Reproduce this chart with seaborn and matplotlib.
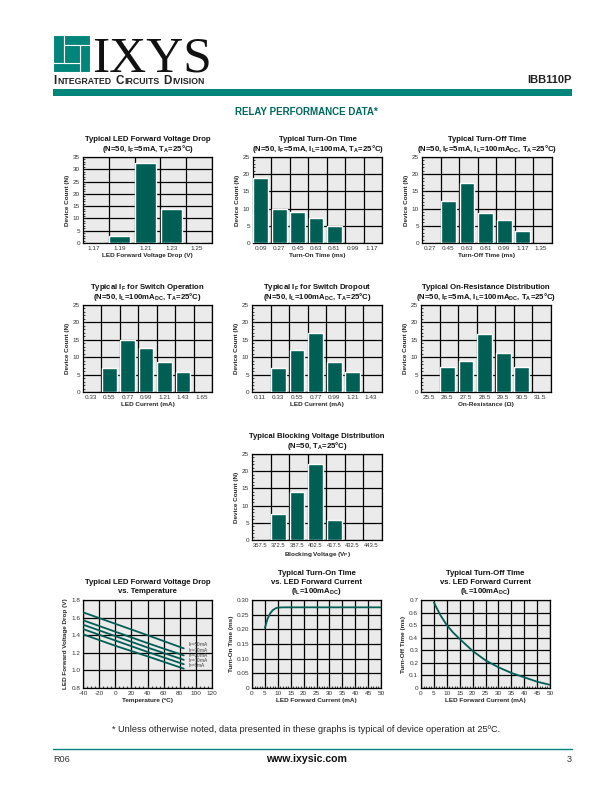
import numpy as np
import pandas as pd
import matplotlib
matplotlib.use('Agg')
import matplotlib.pyplot as plt
import matplotlib.patches as mpatches
from matplotlib.ticker import MultipleLocator, FixedLocator, FuncFormatter, FormatStrFormatter
import seaborn as sns

# ---------------- data ----------------
fwd_bins = ['1.17', '1.19', '1.21', '1.23', '1.25']
fwd_counts = [0, 2.8, 32.5, 13.8, 0]

ton_bins = ['0.09', '0.27', '0.45', '0.63', '0.81', '0.99', '1.17']
ton_counts = [18.8, 10.0, 8.9, 7.2, 4.9, 0, 0]

toff_bins = ['0.27', '0.45', '0.63', '0.81', '0.99', '1.17', '1.35']
toff_counts = [0, 12.3, 17.3, 8.6, 6.8, 3.6, 0]

ifop_bins = ['0.33', '0.55', '0.77', '0.99', '1.21', '1.43', '1.65']
ifop_counts = [0, 7.0, 15.0, 12.7, 8.7, 5.8, 0]

ifdo_bins = ['0.11', '0.33', '0.55', '0.77', '0.99', '1.21', '1.43']
ifdo_counts = [0, 7.0, 12.0, 16.9, 8.7, 5.8, 0]

ron_bins = ['25.5', '26.5', '27.5', '28.5', '29.5', '30.5', '31.5']
ron_counts = [0, 7.3, 9.0, 16.8, 11.3, 7.3, 0]

vb_bins = ['357.5', '372.5', '387.5', '402.5', '417.5', '432.5', '443.5']
vb_counts = [0, 7.6, 14.0, 22.0, 5.9, 0, 0]

# LED forward voltage vs temperature
vf_temp = [-40, 0, 40, 85]
vf_50ma = [1.66, 1.53, 1.40, 1.25]
vf_30ma = [1.57, 1.44, 1.31, 1.17]
vf_20ma = [1.52, 1.39, 1.26, 1.12]
vf_10ma = [1.47, 1.34, 1.21, 1.07]
vf_5ma = [1.41, 1.28, 1.16, 1.02]
vf_labels = ['I$_F$=50mA', 'I$_F$=30mA', 'I$_F$=20mA', 'I$_F$=10mA', 'I$_F$=5mA']

# turn-on time vs LED current
ton_if = [5, 6, 7, 8, 9, 10, 12, 20, 30, 40, 50]
ton_ms = [0.205, 0.235, 0.254, 0.265, 0.271, 0.274, 0.275, 0.275, 0.275, 0.275, 0.275]

# turn-off time vs LED current
toff_if = [5, 7.5, 10, 12.5, 15, 20, 25, 30, 35, 40, 45, 50]
toff_ms = [0.68, 0.58, 0.50, 0.44, 0.39, 0.295, 0.22, 0.165, 0.12, 0.085, 0.05, 0.025]

# ---------------- style ----------------
TEAL = '#00857a'
BAR = '#005f55'
FACE = '#ebebeb'
W, H = 612, 792

sns.set_style('white')
plt.rcParams['font.family'] = ['Liberation Sans', 'DejaVu Sans']
plt.rcParams['mathtext.default'] = 'regular'
plt.rcParams['axes.unicode_minus'] = False
plt.rcParams['axes.linewidth'] = 0.9

fig = plt.figure(figsize=(W / 100, H / 100), dpi=100)
renderer = fig.canvas.get_renderer()


def box(x0, y0, x1, y1):
    return [x0 / W, 1 - y1 / H, (x1 - x0) / W, (y1 - y0) / H]


def put_title(ax, lines):
    # one text per line so subscripts do not change the spacing
    n = len(lines)
    for k, line in enumerate(lines):
        off_px = 8.5 + 9.2 * (n - 1 - k)
        ax.annotate(line, xy=(0.5, 1), xycoords='axes fraction',
                    xytext=(0, off_px * 0.72), textcoords='offset points',
                    ha='center', va='center', fontsize=5.6, fontweight='bold',
                    color='#111111', annotation_clip=False)


def style_axes(ax, title_lines, xlabel, ylabel, xtick_size=4.6):
    ax.set_facecolor(FACE)
    put_title(ax, title_lines)
    ax.set_xlabel(xlabel, fontsize=4.6, fontweight='bold', labelpad=1.5)
    ax.set_ylabel(ylabel, fontsize=4.6, fontweight='bold', labelpad=2)
    for s in ax.spines.values():
        s.set_color('black')
        s.set_linewidth(0.9)
    ax.tick_params(labelsize=4.6, labelcolor='#333333', pad=2)
    ax.tick_params(axis='x', labelsize=xtick_size)


def hist_panel(rect, bins, counts, title_lines, xlabel, ymax=25, ystep=5, xtick_size=4.6):
    ax = fig.add_axes(box(*rect))
    df = pd.DataFrame({'bin': bins, 'count': counts})
    sns.barplot(data=df, x='bin', y='count', order=bins, color=BAR,
                width=0.8, saturation=1, ax=ax, zorder=3)
    n = len(bins)
    ax.set_xlim(-0.42, n - 0.42)
    ax.set_ylim(0, ymax)
    ax.yaxis.set_major_locator(MultipleLocator(ystep))
    ax.yaxis.set_minor_locator(MultipleLocator(1))
    ax.xaxis.set_minor_locator(FixedLocator(np.arange(n) + 0.58))
    ax.grid(which='major', axis='y', color='black', lw=0.9)
    ax.grid(which='minor', axis='x', color='black', lw=0.9)
    ax.set_axisbelow(True)
    ax.tick_params(axis='x', which='both', length=0)
    ax.tick_params(axis='y', which='major', direction='in', length=2.5, width=0.6, left=True)
    ax.tick_params(axis='y', which='minor', direction='in', length=1.3, width=0.6, left=True)
    style_axes(ax, title_lines, xlabel, 'Device Count (N)', xtick_size)
    return ax


# ---------------- header ----------------
hdr = fig.add_axes([0, 0, 1, 1])
hdr.set_xlim(0, W)
hdr.set_ylim(H, 0)
hdr.axis('off')

# logo pinwheel
lx0, ly0, lw, lh = 53, 35, 37, 37
pieces = [(0, 0, 0.29, 0.75), (0.29, 0, 0.71, 0.28), (0.72, 0.28, 0.28, 0.72),
          (0, 0.75, 0.72, 0.25), (0.29, 0.28, 0.43, 0.47)]
for px, py, pw, ph in pieces:
    hdr.add_patch(mpatches.Rectangle((lx0 + px * lw, ly0 + py * lh), pw * lw, ph * lh,
                                     facecolor=TEAL, edgecolor='white', lw=0.8))
hdr.text(92, 72, 'IXYS', family=['Liberation Serif', 'DejaVu Serif'], fontsize=37,
         va='baseline', ha='left', color='#111111')

# small caps "Integrated Circuits Division", chained word by word
x_cur = 53
for big, small in [('I', 'NTEGRATED'), ('C', 'IRCUITS'), ('D', 'IVISION')]:
    t = hdr.text(x_cur, 84, big, fontsize=8.4, fontweight='bold',
                 va='baseline', ha='left', color='#222222')
    x_cur += t.get_window_extent(renderer=renderer).width + 0.8
    t = hdr.text(x_cur, 84, small, fontsize=6.3, fontweight='bold',
                 va='baseline', ha='left', color='#222222')
    x_cur += t.get_window_extent(renderer=renderer).width + 4.0

hdr.text(572, 80, 'IBB110P', fontsize=8, fontweight='bold', ha='right', va='center', color='#222222')
hdr.add_patch(mpatches.Rectangle((53, 89), 519, 7, facecolor=TEAL, edgecolor='none'))
hdr.text(306, 112, 'RELAY PERFORMANCE DATA*', fontsize=7, fontweight='bold', ha='center',
         va='center', color='#00695f')

# footer
hdr.text(306, 729, '* Unless otherwise noted, data presented in these graphs is typical of device operation at 25ºC.',
         fontsize=6.6, ha='center', va='center', color='#222222')
hdr.plot([53, 572], [749, 749], color=TEAL, lw=1.0)
hdr.text(53, 759, 'R06', fontsize=6.6, ha='left', va='center', color='#333333')
hdr.text(306, 759, 'www.ixysic.com', fontsize=7.6, fontweight='bold', ha='center', va='center', color='#111111')
hdr.text(572, 759, '3', fontsize=6.6, ha='right', va='center', color='#333333')

# ---------------- histogram panels ----------------
hist_panel((83, 157, 212, 243), fwd_bins, fwd_counts,
           ['Typical LED Forward Voltage Drop', '(N=50, I$_F$=5mA, T$_A$=25°C)'],
           'LED Forward Voltage Drop (V)', ymax=35)
hist_panel((253, 157, 382, 243), ton_bins, ton_counts,
           ['Typical Turn-On Time', '(N=50, I$_F$=5mA, I$_L$=100mA, T$_A$=25°C)'],
           'Turn-On Time (ms)')
hist_panel((422, 157, 552, 243), toff_bins, toff_counts,
           ['Typical Turn-Off Time', '(N=50, I$_F$=5mA, I$_L$=100mA$_{DC}$, T$_A$=25°C)'],
           'Turn-Off Time (ms)')
hist_panel((83, 305, 212, 392), ifop_bins, ifop_counts,
           ['Typical I$_F$ for Switch Operation', '(N=50, I$_L$=100mA$_{DC}$, T$_A$=25°C)'],
           'LED Current (mA)')
hist_panel((252, 305, 382, 392), ifdo_bins, ifdo_counts,
           ['Typical I$_F$ for Switch Dropout', '(N=50, I$_L$=100mA$_{DC}$, T$_A$=25°C)'],
           'LED Current (mA)')
hist_panel((421, 305, 551, 392), ron_bins, ron_counts,
           ['Typical On-Resistance Distribution', '(N=50, I$_F$=5mA, I$_L$=100mA$_{DC}$, T$_A$=25°C)'],
           'On-Resistance (Ω)')
hist_panel((252, 454, 382, 540), vb_bins, vb_counts,
           ['Typical Blocking Voltage Distribution', '(N=50, T$_A$=25°C)'],
           'Blocking Voltage (V$_P$)', xtick_size=4.2)


# ---------------- line panels ----------------
def line_grid(ax, xmaj, ymaj, xmin):
    ax.xaxis.set_major_locator(MultipleLocator(xmaj))
    ax.yaxis.set_major_locator(MultipleLocator(ymaj))
    ax.xaxis.set_minor_locator(MultipleLocator(xmin))
    ax.grid(which='major', color='black', lw=0.9)
    ax.set_axisbelow(True)
    ax.tick_params(axis='x', which='major', direction='in', length=2.5, width=0.6, bottom=True)
    ax.tick_params(axis='x', which='minor', direction='in', length=1.3, width=0.6, bottom=True)
    ax.tick_params(axis='y', which='both', length=0)


# LED forward voltage vs temperature
ax = fig.add_axes(box(83, 600, 212, 688))
vf_series = [vf_50ma, vf_30ma, vf_20ma, vf_10ma, vf_5ma]
vf_df = pd.concat([pd.DataFrame({'temp': vf_temp, 'vf': s, 'curr': lab})
                   for s, lab in zip(vf_series, vf_labels)])
sns.lineplot(data=vf_df, x='temp', y='vf', hue='curr', palette=[BAR] * 5,
             legend=False, lw=1.3, ax=ax, zorder=3)
for k, (s, lab) in enumerate(zip(vf_series, vf_labels)):
    ax.text(vf_temp[-1] + 5, 1.29 - 0.06 * k, lab, fontsize=3.4, color='#333333',
            va='center', zorder=4)
ax.set_xlim(-40, 120)
ax.set_ylim(0.8, 1.8)
line_grid(ax, 20, 0.2, 5)
ax.yaxis.set_major_formatter(FormatStrFormatter('%.1f'))
style_axes(ax, ['Typical LED Forward Voltage Drop', 'vs. Temperature'],
           'Temperature (ºC)', 'LED Forward Voltage Drop (V)')

# turn-on time vs LED current
ax = fig.add_axes(box(252, 600, 381, 688))
sns.lineplot(x=ton_if, y=ton_ms, color=BAR, lw=1.3, ax=ax, zorder=3)
ax.set_xlim(0, 50)
ax.set_ylim(0, 0.30)
line_grid(ax, 5, 0.05, 1)
ax.yaxis.set_major_formatter(FuncFormatter(lambda v, p: '0' if abs(v) < 1e-9 else f'{v:.2f}'))
style_axes(ax, ['Typical Turn-On Time', 'vs. LED Forward Current', '(I$_L$=100mA$_{DC}$)'],
           'LED Forward Current (mA)', 'Turn-On Time (ms)')

# turn-off time vs LED current
ax = fig.add_axes(box(421, 600, 550, 688))
sns.lineplot(x=toff_if, y=toff_ms, color=BAR, lw=1.3, ax=ax, zorder=3)
ax.set_xlim(0, 50)
ax.set_ylim(0, 0.7)
line_grid(ax, 5, 0.1, 1)
ax.yaxis.set_major_formatter(FuncFormatter(lambda v, p: '0' if abs(v) < 1e-9 else f'{v:.1f}'))
style_axes(ax, ['Typical Turn-Off Time', 'vs. LED Forward Current', '(I$_L$=100mA$_{DC}$)'],
           'LED Forward Current (mA)', 'Turn-Off Time (ms)')

fig.savefig('out.png', dpi=100)
